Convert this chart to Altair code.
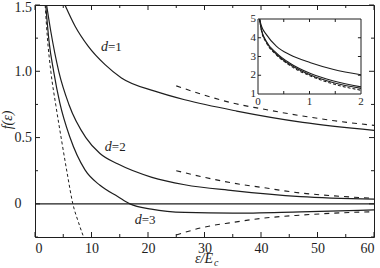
import altair as alt
import pandas as pd

# ---------------- data ----------------
d1_x = [5.3, 7.1, 9.4, 12.4, 15.3, 21.2, 26.5, 35.7, 47.4, 60]
d1_y = [1.5, 1.34, 1.19, 1.05, 0.95, 0.85, 0.785, 0.70, 0.615, 0.555]
d2_x = [2.05, 2.8, 4.2, 6.0, 9.0, 11.5, 14.7, 20.7, 26.5, 35, 47, 60]
d2_y = [1.5, 1.3, 1.0, 0.75, 0.5, 0.38, 0.30, 0.20, 0.144, 0.10, 0.055, 0.036]
d3_x = [1.9, 2.5, 3.3, 4.4, 6.2, 8.85, 11.5, 14.7, 16.8, 20.6, 26.5, 35, 47, 60]
d3_y = [1.5, 1.22, 1.0, 0.76, 0.5, 0.256, 0.14, 0.054, 0.0, -0.04, -0.065, -0.07, -0.06, -0.046]

asym_x = [25, 30, 35, 40, 47, 53, 60]
asym1_y = [0.89, 0.82, 0.76, 0.718, 0.665, 0.627, 0.592]
asym2_y = [0.25, 0.20, 0.157, 0.125, 0.082, 0.06, 0.042]
asym3_y = [-0.235, -0.175, -0.14, -0.11, -0.085, -0.07, -0.059]

left_x = [1.8, 2.2, 2.8, 3.7, 4.7, 5.7, 6.7, 7.7, 8.6]
left_y = [1.5, 1.25, 1.0, 0.74, 0.48, 0.23, 0.0, -0.14, -0.25]

inset_x = [0.03, 0.07, 0.16, 0.36, 0.62, 1.02, 1.47, 2.0]
inset_a = [5.0, 4.6, 4.18, 3.54, 3.09, 2.67, 2.31, 2.03]
inset_b = [5.0, 4.4, 3.82, 3.18, 2.64, 2.09, 1.69, 1.38]
inset_c = [5.0, 4.37, 3.78, 3.12, 2.57, 2.01, 1.60, 1.30]
inset_d = [5.0, 4.35, 3.75, 3.08, 2.52, 1.96, 1.53, 1.20]

x_labels = [0, 10, 20, 30, 40, 50, 60]
x_minor = [5, 15, 25, 35, 45, 55]
y_labels = [0, 0.5, 1.0, 1.5]
y_minor = [-0.25, 0.25, 0.75, 1.25]

inset_xlabels = [0, 1, 2]
inset_xticks = [0.5, 1.0, 1.5]
inset_ylabels = [1, 2, 3, 4, 5]
inset_yticks = [2, 3, 4]

curve_labels = ["=1", "=2", "=3"]
curve_label_x = [12.9, 13.6, 18.9]
curve_label_y = [1.18, 0.43, -0.12]

# ---------------- styling ----------------
INK = "#1e1e1e"
FONT = "Liberation Serif"
W, H = 339, 232
INTERP = "monotone"

xs = alt.Scale(domain=[0, 60], nice=False, zero=False)
ys = alt.Scale(domain=[-0.25, 1.5], nice=False, zero=False)
xaxis = alt.Axis(values=x_labels, ticks=False, tickSize=0, domain=False, grid=False,
                 labelFont=FONT, labelFontSize=14, labelColor=INK, labelPadding=4,
                 title=None)
yaxis = alt.Axis(values=y_labels, ticks=False, tickSize=0, domain=False, grid=False,
                 labelFont=FONT, labelFontSize=14, labelColor=INK, labelAlign="left",
                 labelPadding=21, labelBaseline="middle",
                 labelOffset=alt.condition("datum.value == 1.5", alt.value(2), alt.value(0)),
                 labelExpr="datum.value == 0 ? '0' : format(datum.value, '.1f')",
                 title=None)


def X(f):
    return alt.X(f, type="quantitative", scale=xs, axis=xaxis)


def Y(f):
    return alt.Y(f, type="quantitative", scale=ys, axis=yaxis)


def long(series):
    rows = []
    for name, xv, yv in series:
        for a, b in zip(xv, yv):
            rows.append({"s": name, "x": a, "y": b})
    return pd.DataFrame(rows)


solid = long([("d1", d1_x, d1_y), ("d2", d2_x, d2_y), ("d3", d3_x, d3_y)])
dashed = long([("a1", asym_x, asym1_y), ("a2", asym_x, asym2_y), ("a3", asym_x, asym3_y)])
left = long([("l", left_x, left_y)])

layers = []
layers.append(alt.Chart(solid).mark_line(color=INK, strokeWidth=1.2, clip=True,
                                         interpolate=INTERP)
              .encode(x=X("x"), y=Y("y"), detail="s:N"))
layers.append(alt.Chart(dashed).mark_line(color=INK, strokeWidth=1.1, strokeDash=[5, 5],
                                          clip=True, interpolate=INTERP)
              .encode(x=X("x"), y=Y("y"), detail="s:N"))
layers.append(alt.Chart(left).mark_line(color=INK, strokeWidth=1.0, strokeDash=[3, 2.5],
                                        clip=True, interpolate=INTERP)
              .encode(x=X("x"), y=Y("y")))
layers.append(alt.Chart(pd.DataFrame({"y": [0]})).mark_rule(color=INK, strokeWidth=1.1)
              .encode(y=Y("y")))


# inward ticks on all four sides
def xticks(vals, ln):
    d = pd.DataFrame({"v": vals})
    return [
        alt.Chart(d).mark_rule(color=INK, strokeWidth=1).encode(
            x=X("v"), y=alt.value(H), y2=alt.value(H - ln)),
        alt.Chart(d).mark_rule(color=INK, strokeWidth=1).encode(
            x=X("v"), y=alt.value(0), y2=alt.value(ln)),
    ]


def yticks(vals, ln):
    d = pd.DataFrame({"v": vals})
    return [
        alt.Chart(d).mark_rule(color=INK, strokeWidth=1).encode(
            y=Y("v"), x=alt.value(0), x2=alt.value(ln)),
        alt.Chart(d).mark_rule(color=INK, strokeWidth=1).encode(
            y=Y("v"), x=alt.value(W), x2=alt.value(W - ln)),
    ]


layers += xticks(x_labels, 5) + xticks(x_minor, 3) + yticks(y_labels, 5) + yticks(y_minor, 3)

labdf = pd.DataFrame({"x": curve_label_x, "y": curve_label_y, "t": curve_labels,
                      "d": ["d"] * 3})
layers.append(alt.Chart(labdf).mark_text(font=FONT, fontSize=14, fontStyle="italic",
                                         align="right", color=INK)
              .encode(x=X("x"), y=Y("y"), text="d:N"))
layers.append(alt.Chart(labdf).mark_text(font=FONT, fontSize=13, align="left", color=INK)
              .encode(x=X("x"), y=Y("y"), text="t:N"))

# axis titles
layers.append(alt.Chart(pd.DataFrame({"t": ["f(ε)"]})).mark_text(
    font=FONT, fontSize=14, fontStyle="italic", angle=270, color=INK)
    .encode(x=alt.value(-27), y=alt.value(115), text="t:N"))
layers.append(alt.Chart(pd.DataFrame({"t": ["ε/E"]})).mark_text(
    font=FONT, fontSize=14, fontStyle="italic", align="right", baseline="alphabetic",
    color=INK).encode(x=alt.value(178), y=alt.value(258), text="t:N"))
layers.append(alt.Chart(pd.DataFrame({"t": ["c"]})).mark_text(
    font=FONT, fontSize=10, fontStyle="italic", align="left", baseline="alphabetic",
    color=INK).encode(x=alt.value(179), y=alt.value(261), text="t:N"))

main = alt.layer(*layers)

# ---------------- inset ----------------
xs2 = alt.Scale(domain=[0, 2], range=[223, 326], nice=False, zero=False)
ys2 = alt.Scale(domain=[1, 5], range=[89, 14], nice=False, zero=False)


def X2(f):
    return alt.X(f, type="quantitative", scale=xs2, axis=None)


def Y2(f):
    return alt.Y(f, type="quantitative", scale=ys2, axis=None)


inl = []
inl.append(alt.Chart(pd.DataFrame({"x0": [0], "x1": [2], "y0": [1], "y1": [5]}))
           .mark_rect(fill="white", stroke=INK, strokeWidth=1)
           .encode(x=X2("x0"), x2="x1", y=Y2("y0"), y2="y1"))
ins = long([("a", inset_x, inset_a), ("b", inset_x, inset_b), ("c", inset_x, inset_c)])
ind = long([("d", inset_x, inset_d)])
inl.append(alt.Chart(ins).mark_line(color=INK, strokeWidth=1.1, interpolate="monotone")
           .encode(x=X2("x"), y=Y2("y"), detail="s:N"))
inl.append(alt.Chart(ind).mark_line(color=INK, strokeWidth=1.1, strokeDash=[3, 2],
                                    interpolate="monotone")
           .encode(x=X2("x"), y=Y2("y")))

vt = []
for v in inset_xticks:
    vt.append({"x": v, "y": 1.0, "y2": 1.16})
    vt.append({"x": v, "y": 5.0, "y2": 4.84})
inl.append(alt.Chart(pd.DataFrame(vt)).mark_rule(color=INK, strokeWidth=1)
           .encode(x=X2("x"), y=Y2("y"), y2="y2"))
ht = []
for v in inset_yticks:
    ht.append({"y": v, "x": 0.0, "x2": 0.06})
    ht.append({"y": v, "x": 2.0, "x2": 1.94})
inl.append(alt.Chart(pd.DataFrame(ht)).mark_rule(color=INK, strokeWidth=1)
           .encode(y=Y2("y"), x=X2("x"), x2="x2"))

inl.append(alt.Chart(pd.DataFrame({"v": inset_xlabels, "t": [str(v) for v in inset_xlabels]}))
           .mark_text(font=FONT, fontSize=11, baseline="top", dy=2, color=INK)
           .encode(x=X2("v"), y=alt.value(89), text="t:N"))
inl.append(alt.Chart(pd.DataFrame({"v": inset_ylabels, "t": [str(v) for v in inset_ylabels]}))
           .mark_text(font=FONT, fontSize=11, align="right", dx=-2, color=INK)
           .encode(y=Y2("v"), x=alt.value(223), text="t:N"))

inset = alt.layer(*inl)

chart = (alt.layer(main, inset)
         .resolve_scale(x="independent", y="independent")
         .properties(width=W, height=H,
                     padding={"left": 35, "top": 5, "right": 6, "bottom": 31},
                     autosize=alt.AutoSizeParams(type="none"),
                     background="white")
         .configure_view(stroke=INK, strokeWidth=1))

chart.save("out.html", embed_options={"renderer": "svg", "actions": False})
